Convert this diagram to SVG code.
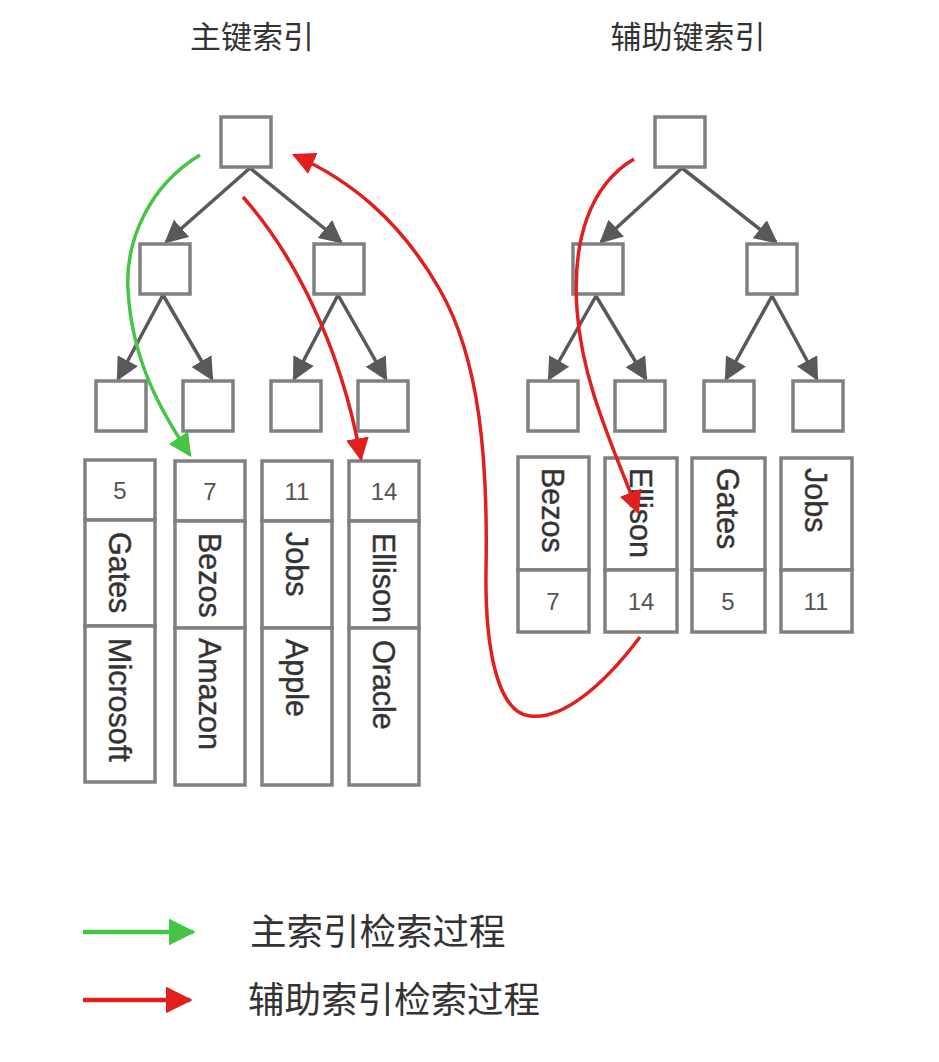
<svg xmlns="http://www.w3.org/2000/svg" width="939" height="1062" viewBox="0 0 939 1062">
<style>
.box{fill:#fff;stroke:#808080;stroke-width:3.5}
.edge{stroke:#58595b;stroke-width:3.5;fill:none}
.num{font-family:"Liberation Sans",Arial,sans-serif;font-size:24px;fill:#555;text-anchor:middle}
.name{font-family:"Liberation Sans",Arial,sans-serif;font-size:30.5px;fill:#333;stroke:#333;stroke-width:0.4}
.title{font-family:"Noto Sans CJK SC",sans-serif;font-size:31px;fill:#333;text-anchor:middle}
.leg{font-family:"Noto Sans CJK SC",sans-serif;font-size:36.5px;fill:#333}
.green{stroke:#45c445;stroke-width:3.5;fill:none}
.red{stroke:#e01f1f;stroke-width:3.5;fill:none}
.lg{stroke-width:4.5}
</style>
<defs>
<marker id="ah" viewBox="0 0 10 10" refX="9" refY="5" markerWidth="23" markerHeight="23" markerUnits="userSpaceOnUse" orient="auto"><path d="M0,0 L10,5 L0,10 z" fill="#58595b"/></marker>
<marker id="ag" viewBox="0 0 10 10" refX="9" refY="5" markerWidth="23" markerHeight="23" markerUnits="userSpaceOnUse" orient="auto"><path d="M0,0 L10,5 L0,10 z" fill="#45c445"/></marker>
<marker id="ar" viewBox="0 0 10 10" refX="9" refY="5" markerWidth="23" markerHeight="23" markerUnits="userSpaceOnUse" orient="auto"><path d="M0,0 L10,5 L0,10 z" fill="#e01f1f"/></marker>
<marker id="agl" viewBox="0 0 10 10" refX="9" refY="5" markerWidth="27" markerHeight="27" markerUnits="userSpaceOnUse" orient="auto"><path d="M0,0 L10,5 L0,10 z" fill="#45c445"/></marker>
<marker id="arl" viewBox="0 0 10 10" refX="9" refY="5" markerWidth="27" markerHeight="27" markerUnits="userSpaceOnUse" orient="auto"><path d="M0,0 L10,5 L0,10 z" fill="#e01f1f"/></marker>
</defs>
<rect width="939" height="1062" fill="#fff"/>

<text class="title" x="252" y="48">主键索引</text>
<text class="title" x="688" y="48">辅助键索引</text>

<g id="connectors">
<line class="edge" x1="250" y1="168" x2="166" y2="242" marker-end="url(#ah)"/>
<line class="edge" x1="250" y1="168" x2="341" y2="242" marker-end="url(#ah)"/>
<line class="edge" x1="163" y1="295" x2="118" y2="379" marker-end="url(#ah)"/>
<line class="edge" x1="163" y1="295" x2="212" y2="379" marker-end="url(#ah)"/>
<line class="edge" x1="338" y1="295" x2="294" y2="379" marker-end="url(#ah)"/>
<line class="edge" x1="338" y1="295" x2="386" y2="379" marker-end="url(#ah)"/>
<line class="edge" x1="682" y1="168" x2="601" y2="242" marker-end="url(#ah)"/>
<line class="edge" x1="682" y1="168" x2="776" y2="242" marker-end="url(#ah)"/>
<line class="edge" x1="596" y1="296" x2="549" y2="379" marker-end="url(#ah)"/>
<line class="edge" x1="596" y1="296" x2="646" y2="379" marker-end="url(#ah)"/>
<line class="edge" x1="772" y1="296" x2="726" y2="379" marker-end="url(#ah)"/>
<line class="edge" x1="772" y1="296" x2="817" y2="379" marker-end="url(#ah)"/>
</g>

<g id="left-tree">
<rect id="L-root" class="box" x="221" y="117" width="50" height="50"/>
<rect id="L-m1" class="box" x="140" y="244" width="50" height="50"/>
<rect id="L-m2" class="box" x="314" y="244" width="50" height="50"/>
<rect id="L-l1" class="box" x="96" y="381" width="50" height="50"/>
<rect id="L-l2" class="box" x="183" y="381" width="50" height="50"/>
<rect id="L-l3" class="box" x="271" y="381" width="50" height="50"/>
<rect id="L-l4" class="box" x="358" y="381" width="50" height="50"/>
</g>

<g id="right-tree">
<rect id="R-root" class="box" x="655" y="117" width="50" height="50"/>
<rect id="R-m1" class="box" x="573" y="244" width="50" height="50"/>
<rect id="R-m2" class="box" x="747" y="244" width="50" height="50"/>
<rect id="R-l1" class="box" x="528" y="381" width="50" height="50"/>
<rect id="R-l2" class="box" x="615" y="381" width="50" height="50"/>
<rect id="R-l3" class="box" x="704" y="381" width="50" height="50"/>
<rect id="R-l4" class="box" x="793" y="381" width="50" height="50"/>
</g>

<g id="row-5">
<rect class="box" x="85" y="460" width="70" height="60"/>
<rect class="box" x="85" y="520" width="70" height="106"/>
<rect class="box" x="85" y="626" width="70" height="156"/>
<text class="num" x="120" y="499">5</text>
<text class="name" transform="translate(120,532) rotate(90)" dy="0.36em">Gates</text>
<text class="name" transform="translate(120,638) rotate(90)" dy="0.36em">Microsoft</text>
</g>
<g id="row-7">
<rect class="box" x="175" y="461" width="70" height="60"/>
<rect class="box" x="175" y="521" width="70" height="107"/>
<rect class="box" x="175" y="628" width="70" height="157"/>
<text class="num" x="210" y="500">7</text>
<text class="name" transform="translate(210,533) rotate(90)" dy="0.36em">Bezos</text>
<text class="name" transform="translate(210,638) rotate(90)" dy="0.36em">Amazon</text>
</g>
<g id="row-11">
<rect class="box" x="262" y="461" width="70" height="60"/>
<rect class="box" x="262" y="521" width="70" height="107"/>
<rect class="box" x="262" y="628" width="70" height="157"/>
<text class="num" x="297" y="500">11</text>
<text class="name" transform="translate(297,532) rotate(90)" dy="0.36em">Jobs</text>
<text class="name" transform="translate(297,639) rotate(90)" dy="0.36em">Apple</text>
</g>
<g id="row-14">
<rect class="box" x="349" y="461" width="70" height="60"/>
<rect class="box" x="349" y="521" width="70" height="107"/>
<rect class="box" x="349" y="628" width="70" height="157"/>
<text class="num" x="384" y="500">14</text>
<text class="name" transform="translate(384,533) rotate(90)" dy="0.36em">Ellison</text>
<text class="name" transform="translate(384,640) rotate(90)" dy="0.36em">Oracle</text>
</g>

<g id="sec-bezos">
<rect class="box" x="518" y="457" width="71" height="113"/>
<rect class="box" x="518" y="570" width="71" height="62"/>
<text class="name" transform="translate(553,468) rotate(90)" dy="0.36em">Bezos</text>
<text class="num" x="553" y="610">7</text>
</g>
<g id="sec-ellison">
<rect class="box" x="605" y="458" width="72" height="112"/>
<rect class="box" x="605" y="570" width="72" height="62"/>
<text class="name" transform="translate(641,468) rotate(90)" dy="0.36em">Ellison</text>
<text class="num" x="641" y="610">14</text>
</g>
<g id="sec-gates">
<rect class="box" x="692" y="458" width="73" height="112"/>
<rect class="box" x="692" y="570" width="73" height="62"/>
<text class="name" transform="translate(728,468) rotate(90)" dy="0.36em">Gates</text>
<text class="num" x="728" y="610">5</text>
</g>
<g id="sec-jobs">
<rect class="box" x="781" y="458" width="71" height="112"/>
<rect class="box" x="781" y="570" width="71" height="62"/>
<text class="name" transform="translate(816,468) rotate(90)" dy="0.36em">Jobs</text>
<text class="num" x="816" y="610">11</text>
</g>

<g id="search-paths">
<path class="green" d="M200,155 C150,185 125,240 128,290 C132,360 160,410 190,455" marker-end="url(#ag)"/>
<path class="red" d="M243,197 C290,250 340,340 361,459" marker-end="url(#ar)"/>
<path class="red" d="M634,159 C590,185 572,240 577,310 C582,380 610,440 638,512" marker-end="url(#ar)"/>
<path class="red" d="M640,637 C600,690 560,720 530,716 C495,712 485,640 486,570 C488,460 480,360 440,290 C400,220 350,180 294,155" marker-end="url(#ar)"/>
</g>

<g id="legend">
<line class="green lg" x1="83" y1="932" x2="193" y2="932" marker-end="url(#agl)"/>
<text class="leg" x="250" y="945">主索引检索过程</text>
<line class="red lg" x1="83" y1="1000" x2="190" y2="1000" marker-end="url(#arl)"/>
<text class="leg" x="248" y="1013">辅助索引检索过程</text>
</g>
</svg>
